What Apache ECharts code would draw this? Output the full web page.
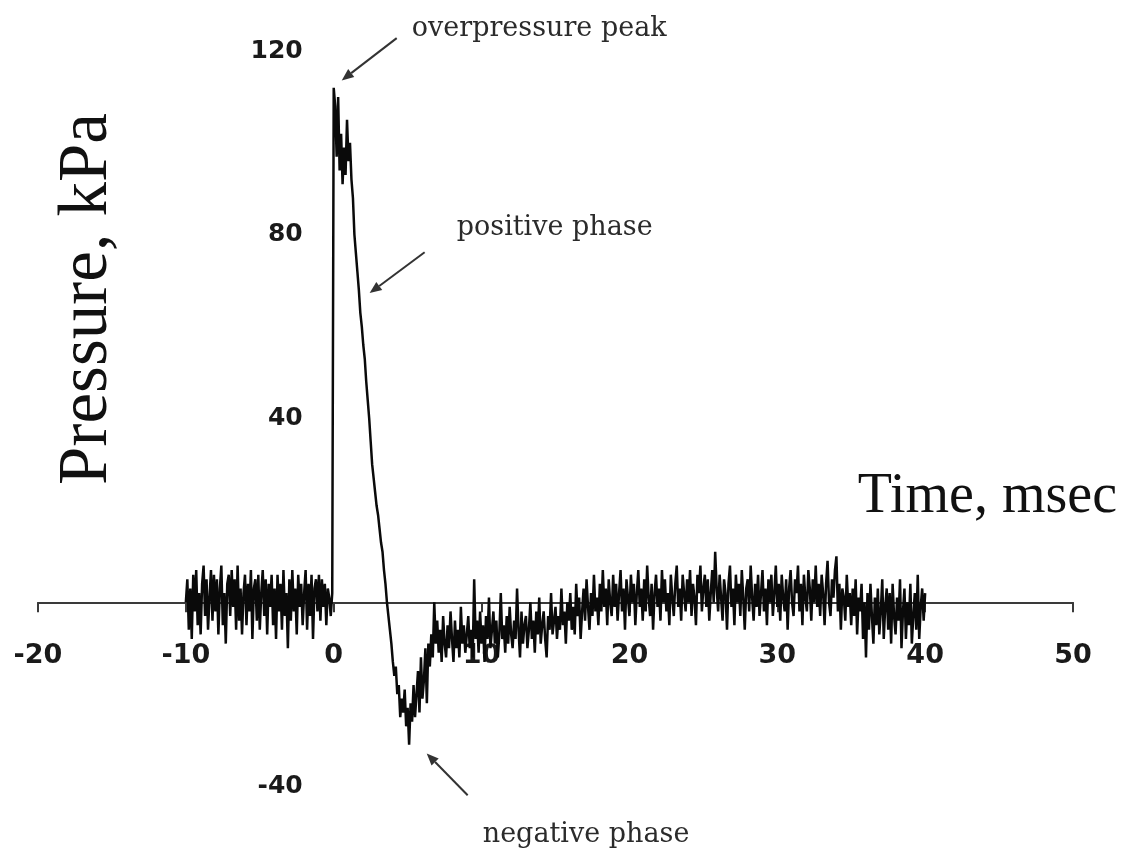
<!DOCTYPE html>
<html>
<head>
<meta charset="utf-8">
<title>Blast wave pressure trace</title>
<script src="https://cdn.jsdelivr.net/npm/echarts@6/dist/echarts.min.js"></script>
<style>
  html, body { margin: 0; padding: 0; background: #ffffff; }
  #chart { width: 1121px; height: 858px; }
</style>
</head>
<body>
<div id="chart"></div>
<script>
// Pressure gauge record, one sample every 0.1 ms starting at -10 ms.
const SAMPLE_START_MS = -10;
const SAMPLE_STEP_MS = 0.1;

// -10.0 ... -0.1 ms : ambient noise before the shock arrives
const preShock = [
  0, 5, -6, 3, -8, 6, -2, 7, -5, 2,
  -7, 4, 8, -3, 5, -6, 1, 7, -4, 6,
  -2, 5, -7, 3, 8, -5, 2, -9, 4, 6,
  -3, 7, -1, 5, -6, 8, -4, 3, -7, 2,
  6, -5, 4, -2, 7, -8, 3, 5, -4, 6,
  -6, 2, 7, -3, 5, -7, 4, -1, 6, -5,
  3, -8, 6, -2, 4, -6, 7, -3, 2, -10,
  5, -4, 7, -2, 3, -7, 6, -1, 4, -5,
  2, 7, -6, 4, -3, 6, -8, 3, 5, -2,
  6, -4, 5, -1, 4, -5, 3, 1, -3, 2
];

// 0.0 ... 6.9 ms : shock front, positive phase decay and negative phase
const blast = [
  112, 108, 97, 110, 94, 102, 91, 99, 93, 105,
  96, 100, 92, 88, 80, 76, 72, 68, 63, 60,
  56, 53, 48, 44, 40, 35, 30, 27, 24, 21,
  19, 16, 13, 11, 7, 4, 0, -3, -6, -9,
  -13, -16, -14, -20, -18, -25, -21, -24, -19, -27,
  -23, -31, -22, -26, -18, -25, -20, -15, -24, -12,
  -21, -17, -10, -22, -9, -14, -7, -12, 0, -9
];

// 7.0 ... 40.0 ms : recovery back to ambient
const recovery = [
  -4, -11, -6, -13, -3, -9, -12, -5, -10, -2,
  -8, -13, -4, -10, -6, -12, -1, -9, -5, -11,
  -7, -3, -10, -6, -12, 5, -8, -4, -11, -2,
  -9, -5, -13, -3, -8, 1, -10, -6, -2, -9,
  -4, -12, -7, 2, -8, -5, -11, -3, -9, -1,
  -7, -10, -4, -8, 3, -6, -12, -2, -9, -5,
  -3, -10, -6, 0, -8, -4, -11, -2, -7, 1,
  -9, -5, -2, -8, -12, -3, -6, 2, -7, -4,
  -1, -8, -3, -6, 3, -5, -2, -9, 0, -4,
  2, -6, -1, -7, 4, -3, 1, -8, -2, 3,
  -4, 5, -1, -6, 2, -3, 6, -2, 1, -5,
  4, -2, 7, -1, 3, -5, 5, 0, -3, 6,
  -1, 4, -4, 2, 7, -2, 3, -6, 5, 1,
  -3, 6, 0, 4, -5, 2, 7, -1, 3, -4,
  5, -2, 8, 1, -3, 4, -6, 2, 6, -1,
  3, -4, 7, 0, 5, -2, 2, -5, 6, 1,
  -3, 4, 8, -1, 3, -4, 6, 2, -2, 5,
  0, 7, -3, 4, 1, -5, 6, 2, 8, -2,
  3, 6, -1, 5, -4, 2, 7, 0, 11, 3,
  -2, 6, 1, -4, 5, 2, -6, 4, 8, -1,
  3, -5, 6, 0, 4, -3, 7, 1, -6, 3,
  5, -2, 8, 1, -4, 4, -1, 6, -3, 2,
  7, -2, 3, -5, 5, 0, 6, -3, 2, 8,
  -1, 4, -4, 6, 1, -2, 5, -6, 3, 7,
  0, -3, 5, 2, 8, -2, 4, -5, 6, 1,
  -2, 7, 3, -4, 5, 0, 8, -1, 4, -3,
  6, 2, -5, 4, 9, 0, -3, 5, 1, 7,
  10, -2, 4, -6, 3, 1, -4, 6, -1, 2,
  -5, 3, -3, 5, -7, 1, -2, 4, -8, 0,
  -12, 2, -6, 4, -3, -9, 1, -5, 3, -7,
  -2, 5, -8, -1, 3, -6, 2, -9, 4, -3,
  -7, 1, -4, 5, -10, -2, 3, -8, 0, -5,
  4, -9, -3, 2, -6, 6, -8, -1, 3, -4,
  2
];

// Axis ranges and tick labels
const timeTicks = [-20, -10, 0, 10, 20, 30, 40, 50];
const pressureTicks = [-40, 0, 40, 80, 120];

// Callouts: label anchor (left-middle), arrow tail and arrow head, in [ms, kPa]
const callouts = [
  { text: 'overpressure peak', label: [5.28, 124.9], tail: [4.26, 122.8], head: [0.54, 113.6] },
  { text: 'positive phase',    label: [8.32, 81.4],  tail: [6.15, 76.2],  head: [2.43, 67.3] },
  { text: 'negative phase',    label: [10.08, -50.7], tail: [9.06, -42.0], head: [6.29, -32.9] }
];

const pressure = preShock.concat(blast, recovery);
const trace = pressure.map((p, i) => [
  Math.round((SAMPLE_START_MS + i * SAMPLE_STEP_MS) * 10) / 10,
  p
]);

// Plot area, in pixels of the 1121 x 858 canvas
const GRID = { left: 38, right: 48, top: 51, bottom: 72 };
const W = 1121, H = 858;
const gridW = W - GRID.left - GRID.right;
const gridH = H - GRID.top - GRID.bottom;

const tMin = timeTicks[0], tMax = timeTicks[timeTicks.length - 1];
const pMin = pressureTicks[0], pMax = pressureTicks[pressureTicks.length - 1];

// Both axes cross at the origin: shift them into the plot area
const xAxisShift = -((0 - pMin) / (pMax - pMin)) * gridH;
const yAxisShift = -((0 - tMin) / (tMax - tMin)) * gridW;

const chart = echarts.init(document.getElementById('chart'), null, { renderer: 'canvas' });

const tickFont = {
  fontFamily: 'DejaVu Sans',
  fontWeight: 'bold',
  color: '#1a1a1a'
};

chart.setOption({
  backgroundColor: '#ffffff',
  animation: false,
  grid: {
    left: GRID.left,
    right: GRID.right,
    top: GRID.top,
    bottom: GRID.bottom,
    containLabel: false,
    outerBoundsMode: 'none'
  },
  xAxis: {
    type: 'value',
    position: 'bottom',
    offset: xAxisShift,
    min: tMin,
    max: tMax,
    interval: timeTicks[1] - timeTicks[0],
    axisLine: { onZero: false, lineStyle: { color: '#3a3a3a', width: 2 } },
    axisTick: { show: true, length: 10, lineStyle: { color: '#3a3a3a', width: 2 } },
    axisLabel: Object.assign({ fontSize: 27, margin: 40 }, tickFont),
    splitLine: { show: false }
  },
  yAxis: {
    type: 'value',
    position: 'left',
    offset: yAxisShift,
    min: pMin,
    max: pMax,
    interval: pressureTicks[1] - pressureTicks[0],
    axisLine: { show: false, onZero: false },
    axisTick: { show: false },
    axisLabel: Object.assign({
      fontSize: 25,
      margin: 31,
      formatter: v => (v === 0 ? '' : String(v))
    }, tickFont),
    splitLine: { show: false }
  },
  series: [{
    type: 'line',
    data: trace,
    showSymbol: false,
    symbol: 'none',
    lineStyle: { color: '#0a0a0a', width: 2.5 },
    z: 3
  }]
});

// Arrowed callouts plus axis titles
function px(pt) {
  return chart.convertToPixel({ gridIndex: 0 }, pt);
}

const graphics = [];
callouts.forEach(c => {
  const [lx, ly] = px(c.label);
  const [tx, ty] = px(c.tail);
  const [hx, hy] = px(c.head);
  graphics.push({
    type: 'text',
    x: lx, y: ly,
    style: {
      text: c.text,
      font: '27px "DejaVu Serif"',
      fill: '#2b2b2b',
      align: 'left',
      verticalAlign: 'middle'
    }
  });
  const dx = hx - tx, dy = hy - ty;
  const len = Math.sqrt(dx * dx + dy * dy);
  const ux = dx / len, uy = dy / len;
  const headLen = 12, headHalf = 5;
  const bx = hx - ux * headLen, by = hy - uy * headLen;
  graphics.push({
    type: 'line',
    shape: { x1: tx, y1: ty, x2: bx, y2: by },
    style: { stroke: '#333333', lineWidth: 2 }
  });
  graphics.push({
    type: 'polygon',
    shape: {
      points: [
        [hx, hy],
        [bx - uy * headHalf, by + ux * headHalf],
        [bx + uy * headHalf, by - ux * headHalf]
      ]
    },
    style: { fill: '#333333' }
  });
});

graphics.push({
  type: 'text',
  x: 1117, y: 497,
  style: {
    text: 'Time, msec',
    font: '56px "Liberation Serif"',
    fill: '#111111',
    align: 'right',
    verticalAlign: 'middle'
  }
});
graphics.push({
  type: 'text',
  x: 88, y: 299,
  rotation: Math.PI / 2,
  style: {
    text: 'Pressure, kPa',
    font: '69px "Liberation Serif"',
    fill: '#111111',
    align: 'center',
    verticalAlign: 'middle'
  }
});

chart.setOption({ graphic: graphics });
</script>
</body>
</html>
